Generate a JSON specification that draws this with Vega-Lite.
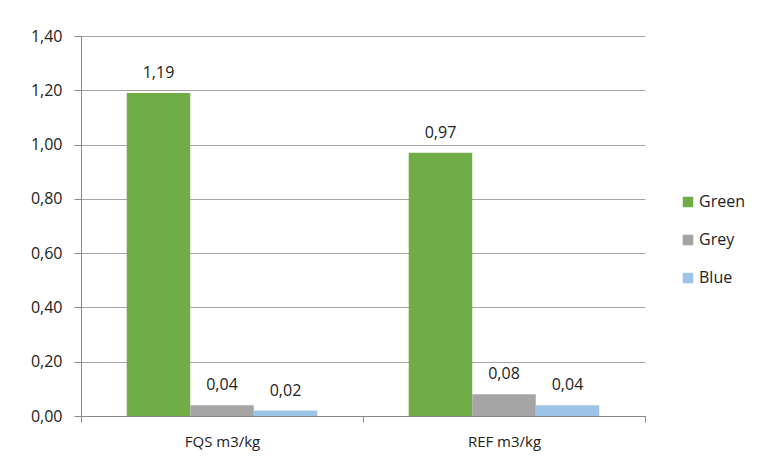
{
  "$schema": "https://vega.github.io/schema/vega-lite/v6.json",
  "autosize": "none",
  "padding": {"left": 81, "top": 36, "right": 114, "bottom": 51},
  "width": 564,
  "height": 380,
  "background": "white",
  "config": {
    "locale": {"number": {"decimal": ",", "thousands": ".", "grouping": [3], "currency": ["", " €"]}},
    "view": {"stroke": null},
    "font": "Open Sans"
  },
  "data": {
    "values": [
      {"category": "FQS m3/kg", "series": "Green", "value": 1.19},
      {"category": "FQS m3/kg", "series": "Grey", "value": 0.04},
      {"category": "FQS m3/kg", "series": "Blue", "value": 0.02},
      {"category": "REF m3/kg", "series": "Green", "value": 0.97},
      {"category": "REF m3/kg", "series": "Grey", "value": 0.08},
      {"category": "REF m3/kg", "series": "Blue", "value": 0.04}
    ]
  },
  "encoding": {
    "x": {
      "field": "category", "type": "nominal", "sort": null,
      "scale": {"paddingInner": 0, "paddingOuter": 0},
      "axis": {
        "title": null, "labelAngle": 0, "labelFontSize": 15, "labelColor": "#222",
        "labelPadding": 12, "tickBand": "extent", "tickSize": 6, "tickColor": "#888",
        "domainColor": "#888", "grid": false
      }
    },
    "xOffset": {"field": "series", "type": "nominal", "sort": ["Green", "Grey", "Blue"],
      "scale": {"paddingInner": 0, "paddingOuter": 0.72}},
    "y": {
      "field": "value", "type": "quantitative",
      "scale": {"domain": [0, 1.4], "nice": false},
      "axis": {
        "title": null, "values": [0, 0.2, 0.4, 0.6, 0.8, 1.0, 1.2, 1.4], "format": ".2f",
        "labelFontSize": 16, "labelColor": "#222", "labelPadding": 12,
        "tickSize": 7, "tickColor": "#888", "domainColor": "#888",
        "grid": true, "gridColor": "#a6a6a6"
      }
    }
  },
  "layer": [
    {
      "mark": {"type": "bar"},
      "encoding": {
        "color": {
          "field": "series", "type": "nominal",
          "scale": {"domain": ["Green", "Grey", "Blue"], "range": ["#70AD47", "#A5A5A5", "#9DC3E6"]},
          "legend": {
            "title": null, "orient": "none", "legendX": 599, "legendY": 158,
            "symbolType": "square", "symbolSize": 110, "symbolStrokeWidth": 0,
            "labelFontSize": 16, "labelColor": "#222", "rowPadding": 22, "labelOffset": 3
          }
        }
      }
    },
    {
      "mark": {"type": "text", "baseline": "bottom", "dy": -12, "fontSize": 16, "color": "#222"},
      "encoding": {
        "text": {"field": "value", "type": "quantitative", "format": ".2f"}
      }
    }
  ]
}
